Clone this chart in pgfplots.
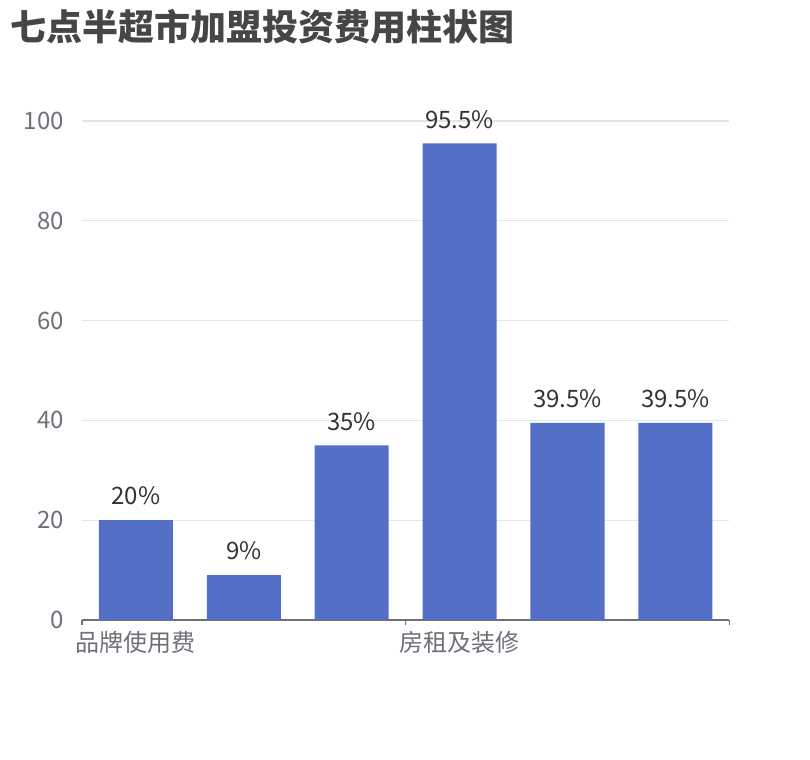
\documentclass[border=0pt]{standalone}
\usepackage{fontspec}
\setmainfont{Noto Sans CJK SC}
\usepackage{pgfplots}
\pgfplotsset{compat=1.18}
\definecolor{barblue}{HTML}{5470C6}
\definecolor{axisgray}{HTML}{6E7079}
\definecolor{gridgray}{HTML}{E0E6F1}
\definecolor{titlegray}{HTML}{464646}
\definecolor{labeldark}{HTML}{333333}
\begin{document}
\begin{tikzpicture}
  \useasboundingbox (0,0) rectangle (607.5pt,570pt);
  % title
  \node[anchor=west, inner sep=0pt, text=titlegray,
        font=\fontsize{27}{29}\selectfont\bfseries]
    at (8pt,550pt) {七点半超市加盟投资费用柱状图};
\begin{axis}[
    at={(61.5pt,105pt)}, anchor=south west,
    scale only axis,
    width=485.5pt, height=374.25pt,
    ybar, bar width=0.686,
    xmin=-0.5, xmax=5.5,
    ymin=0, ymax=100,
    ytick={0,20,...,100},
    xtick={0,3},
    xticklabels={品牌使用费,房租及装修},
    extra x ticks={-0.5,2.5,5.5},
    extra x tick labels={,,},
    extra x tick style={major tick length=3.75pt},
    major tick length=0pt,
    tick align=outside,
    tick style={color=axisgray, line width=1pt},
    axis x line*=bottom, axis y line*=left,
    x axis line style={color=axisgray, line width=1pt, -},
    y axis line style={draw=none},
    ymajorgrids,
    major grid style={color=gridgray, line width=0.8pt},
    /pgf/number format/assume math mode=true,
    yticklabel style={font=\fontsize{18}{20}\selectfont, text=axisgray,
                      inner sep=0pt, xshift=-13.5pt},
    xticklabel style={font=\fontsize{18}{20}\selectfont, text=axisgray,
                      inner sep=0pt, anchor=north, yshift=-8pt},
    nodes near coords={\pgfmathprintnumber{\pgfplotspointmeta}\%},
    every node near coord/.append style={font=\fontsize{18}{20}\selectfont,
                      text=labeldark, inner sep=0pt, anchor=center, yshift=18pt},
  ]
  \addplot[fill=barblue, draw=none] coordinates {
    (0,20) (1,9) (2,35) (3,95.5) (4,39.5) (5,39.5)
  };
\end{axis}
\end{tikzpicture}
\end{document}
